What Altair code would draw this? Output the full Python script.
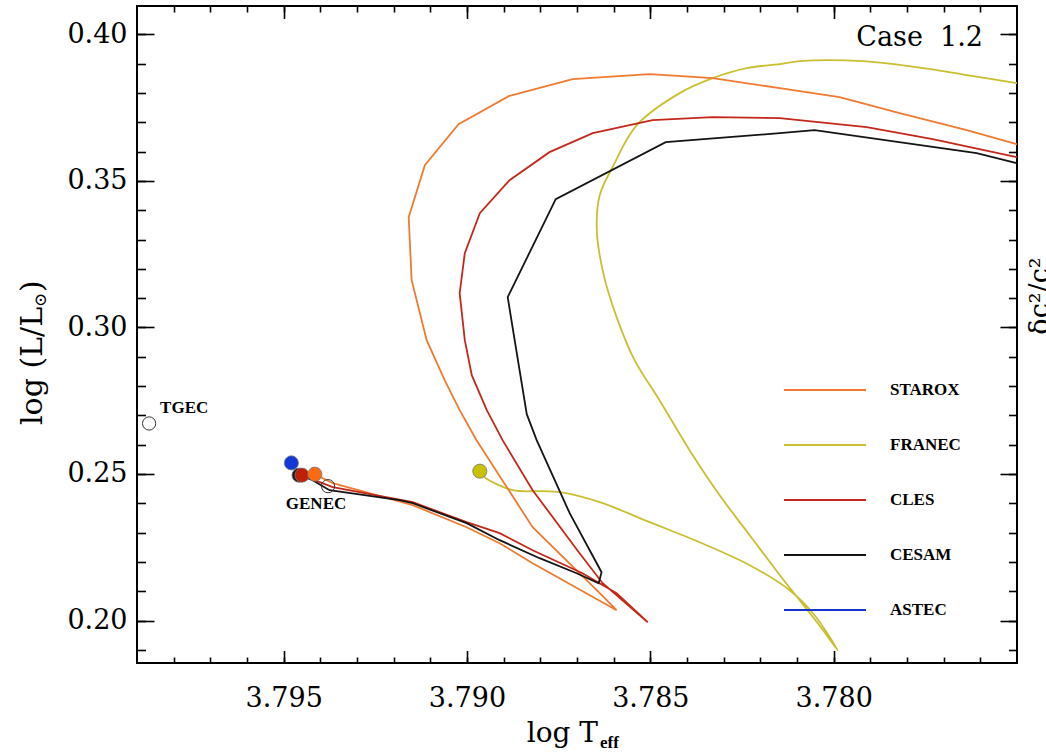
import altair as alt
import pandas as pd

# ---------------- data ----------------
models = ["STAROX", "FRANEC", "CLES", "CESAM", "ASTEC"]
line_colors = ["#f07a30", "#c9bf30", "#c4281a", "#141414", "#1434d0"]

starox_teff = [3.79415, 3.79366, 3.79148, 3.79001, 3.78911, 3.78821, 3.78592, 3.78638, 3.78821,
               3.78974, 3.79020, 3.79061, 3.79110, 3.79151, 3.79159, 3.79115, 3.79023, 3.78886,
               3.78712, 3.78502, 3.78330, 3.78147, 3.77984, 3.77820, 3.77637, 3.77501, 3.77460]
starox_logl = [0.24993, 0.24686, 0.23935, 0.23184, 0.22638, 0.21956, 0.20352, 0.20932, 0.23184,
               0.26154, 0.27177, 0.28201, 0.29567, 0.31614, 0.33765, 0.35539, 0.36939, 0.37894,
               0.38474, 0.38645, 0.38509, 0.38167, 0.37860, 0.37314, 0.36734, 0.36256, 0.36100]

franec_teff = [3.78965, 3.78952, 3.78875, 3.78794, 3.78747, 3.78638, 3.78502, 3.78366, 3.78229,
               3.78120, 3.78052, 3.77989, 3.78033, 3.78093, 3.78153, 3.78229, 3.78311, 3.78393,
               3.78475, 3.78543, 3.78589, 3.78627, 3.78646, 3.78638, 3.78603, 3.78537, 3.78420,
               3.78330, 3.78237, 3.78147, 3.78093, 3.77921, 3.77774, 3.77637, 3.77501, 3.77460]
franec_logl = [0.25096, 0.24891, 0.24447, 0.24413, 0.24379, 0.24038, 0.23355, 0.22672, 0.21887,
               0.21034, 0.20181, 0.18986, 0.19737, 0.20693, 0.21648, 0.22911, 0.24276, 0.25812,
               0.27519, 0.28884, 0.30249, 0.31785, 0.33321, 0.34515, 0.35471, 0.36904, 0.37997,
               0.38509, 0.38850, 0.38986, 0.39089, 0.39089, 0.38884, 0.38611, 0.38338, 0.38260]

cles_teff = [3.79451, 3.79366, 3.79148, 3.79001, 3.78911, 3.78821, 3.78685, 3.78592, 3.78507,
             3.78630, 3.78693, 3.78821, 3.78903, 3.78946, 3.78987, 3.79006, 3.79020, 3.79006,
             3.78965, 3.78884, 3.78775, 3.78657, 3.78494, 3.78330, 3.78147, 3.77910, 3.77730,
             3.77501, 3.77460]
cles_logl = [0.24959, 0.24549, 0.24038, 0.23355, 0.22980, 0.22399, 0.21614, 0.20932, 0.19942,
             0.21273, 0.22297, 0.24447, 0.26154, 0.27177, 0.28372, 0.29567, 0.31171, 0.32536,
             0.33901, 0.35027, 0.35983, 0.36631, 0.37075, 0.37177, 0.37143, 0.36836, 0.36427,
             0.35812, 0.35660]

cesam_teff = [3.79456, 3.79421, 3.79375, 3.79184, 3.79148, 3.79001, 3.78911, 3.78802, 3.78701,
              3.78641, 3.78633, 3.78720, 3.78810, 3.78837, 3.78870, 3.78889, 3.78758, 3.78458,
              3.78147, 3.78052, 3.77610, 3.77501, 3.77460]
cesam_logl = [0.24959, 0.24788, 0.24447, 0.24106, 0.24003, 0.23321, 0.22741, 0.22126, 0.21614,
              0.21273, 0.21648, 0.23662, 0.26154, 0.27041, 0.29567, 0.31034, 0.34379, 0.36324,
              0.36631, 0.36734, 0.35949, 0.35608, 0.35480]

# starting models (filled dots), drawing order
dot_models = ["CESAM", "CLES", "STAROX", "ASTEC", "FRANEC"]
dot_teff = [3.79458, 3.79450, 3.79415, 3.79479, 3.78965]
dot_logl = [0.24959, 0.24960, 0.24993, 0.25379, 0.25096]
dot_colors = ["#1a1a1a", "#c01e08", "#ff6a10", "#1438d8", "#c8c000"]

# open circles (labelled codes)
open_names = ["TGEC", "GENEC"]
open_teff = [3.79867, 3.79379]
open_logl = [0.26724, 0.24584]

# axis ticks
x_major = [3.795, 3.790, 3.785, 3.780]
x_minor = [3.798, 3.797, 3.796, 3.795, 3.794, 3.793, 3.792, 3.791, 3.790, 3.789, 3.788, 3.787,
           3.786, 3.785, 3.784, 3.783, 3.782, 3.781, 3.780, 3.779, 3.778, 3.777, 3.776]
y_major = [0.20, 0.25, 0.30, 0.35, 0.40]
y_minor = [0.19, 0.20, 0.21, 0.22, 0.23, 0.24, 0.25, 0.26, 0.27, 0.28, 0.29, 0.30, 0.31, 0.32,
           0.33, 0.34, 0.35, 0.36, 0.37, 0.38, 0.39, 0.40]
x_domain = [3.775, 3.799]
y_domain = [0.1855, 0.4097]

# ---------------- tables ----------------
rows = []
for name, tx, ly in [("FRANEC", franec_teff, franec_logl), ("STAROX", starox_teff, starox_logl),
                     ("CLES", cles_teff, cles_logl), ("CESAM", cesam_teff, cesam_logl)]:
    for i, (a, b) in enumerate(zip(tx, ly)):
        rows.append({"model": name, "i": i, "teff": a, "logl": b})
tracks = pd.DataFrame(rows)
dots = pd.DataFrame({"model": dot_models, "teff": dot_teff, "logl": dot_logl})
opens = pd.DataFrame({"name": open_names, "teff": open_teff, "logl": open_logl})

W, H = 880, 657
SERIF = "DejaVu Serif"
BOLD = "Liberation Serif"

xscale = alt.Scale(domain=x_domain, reverse=True, nice=False, zero=False)
yscale = alt.Scale(domain=y_domain, nice=False, zero=False)
cscale = alt.Scale(domain=models, range=line_colors)
legend = alt.Legend(orient="none", legendX=646, legendY=342, title=None, padding=0,
                    symbolType="stroke", symbolSize=6724, symbolStrokeWidth=2,
                    labelFont=BOLD, labelFontWeight="bold", labelFontSize=17,
                    labelColor="black", labelOffset=23, rowPadding=5)

x_label_axis = alt.Axis(orient="bottom", values=x_major, format=".3f", ticks=False, domain=False,
                        grid=False, title=None, labelFont=SERIF, labelFontSize=27,
                        labelColor="black", labelPadding=22)
y_label_axis = alt.Axis(orient="left", values=y_major, format=".2f", ticks=False, domain=False,
                        grid=False, title=None, labelFont=SERIF, labelFontSize=27,
                        labelColor="black", labelPadding=10)


def tick_axis(orient, offset, values, size):
    return alt.Axis(orient=orient, offset=offset, values=values, tickSize=size, tickWidth=1.6,
                    tickColor="black", labels=False, domain=False, grid=False, title=None)


def X(axis=None):
    return alt.X("teff:Q", scale=xscale, axis=axis)


def Y(axis=None):
    return alt.Y("logl:Q", scale=yscale, axis=axis)


franec_line = alt.Chart(tracks[tracks.model == "FRANEC"]).mark_line(
    interpolate="catmull-rom", strokeWidth=1.8, clip=True).encode(
    x=X(x_label_axis), y=Y(y_label_axis),
    color=alt.Color("model:N", scale=cscale, legend=legend), order="i:Q")

other_lines = alt.Chart(tracks[tracks.model != "FRANEC"]).mark_line(
    strokeWidth=1.8, clip=True).encode(
    x=X(), y=Y(), color=alt.Color("model:N", scale=cscale, legend=legend), order="i:Q")

dot_layer = alt.Chart(dots).mark_point(filled=True, size=200, shape="circle", opacity=1,
                                       stroke="#777777", strokeWidth=0.8).encode(
    x=X(), y=Y(),
    fill=alt.Fill("model:N", scale=alt.Scale(domain=dot_models, range=dot_colors), legend=None))

open_layer = alt.Chart(opens).mark_point(filled=False, size=175, shape="circle",
                                         stroke="#333333", strokeWidth=1, opacity=1).encode(
    x=X(), y=Y())

tgec_text = alt.Chart(opens[opens.name == "TGEC"]).mark_text(
    font=BOLD, fontWeight="bold", fontSize=17, align="left", baseline="alphabetic",
    dx=11, dy=-10, color="black").encode(x=X(), y=Y(), text="name:N")
genec_text = alt.Chart(opens[opens.name == "GENEC"]).mark_text(
    font=BOLD, fontWeight="bold", fontSize=17, align="center", baseline="alphabetic",
    dx=-12, dy=23, color="black").encode(x=X(), y=Y(), text="name:N")


def tick_layer(xa, ya):
    return alt.Chart(tracks).mark_point(opacity=0).encode(x=X(xa), y=Y(ya))


ticks = [
    tick_layer(tick_axis("top", -H, x_major, 12.5), tick_axis("right", -W, y_major, 17)),
    tick_layer(tick_axis("top", -H, x_minor, 6), tick_axis("right", -W, y_minor, 8.5)),
    tick_layer(tick_axis("bottom", -H, x_major, 12.5), tick_axis("left", -W, y_major, 17)),
    tick_layer(tick_axis("bottom", -H, x_minor, 6), tick_axis("left", -W, y_minor, 8.5)),
]

one = pd.DataFrame({"t": [""]})


def note(text, x, y, **kw):
    return alt.Chart(one).mark_text(text=text, color="black", **kw).encode(
        x=alt.value(x), y=alt.value(y))


case_txt = note("Case\u00a0 1.2", 846, 40, font=SERIF, fontSize=27, align="right",
                baseline="alphabetic")
xt1 = note("log T", 461, 736, font=SERIF, fontSize=28, align="right", baseline="alphabetic")
xt2 = note("eff", 463, 742, font=BOLD, fontWeight="bold", fontSize=17, align="left",
           baseline="alphabetic")
yt1 = note("log (L/L", -104, 419, font=SERIF, fontSize=30, align="left",
           baseline="middle", angle=270)
yt2 = note("\u2299", -96, 301, font=SERIF, fontSize=17, align="left",
           baseline="middle", angle=270)
yt3 = note(")", -104, 286, font=SERIF, fontSize=30, align="left",
           baseline="middle", angle=270)
dc = note("\u03b4c\u00b2/c\u00b2", 904, 290, font=SERIF, fontSize=27, align="center",
          baseline="middle", angle=270)

chart = alt.layer(
    franec_line, other_lines, open_layer, dot_layer, tgec_text, genec_text, *ticks,
    case_txt, xt1, xt2, yt1, yt2, yt3, dc
).resolve_axis(x="independent", y="independent").properties(
    width=W, height=H,
    autosize=alt.AutoSizeParams(type="none"),
    padding={"left": 137, "top": 6, "right": 29, "bottom": 91},
    background="white",
).configure_view(stroke="black", strokeWidth=2)

chart.save("out.html", embed_options={"renderer": "svg", "actions": False})
